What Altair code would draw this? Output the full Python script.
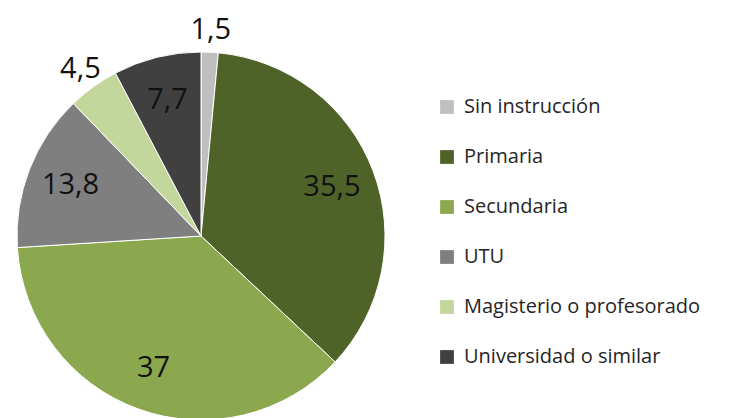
import altair as alt
import pandas as pd

categories = ["Sin instrucción", "Primaria", "Secundaria", "UTU",
              "Magisterio o profesorado", "Universidad o similar"]
values = [1.5, 35.5, 37, 13.8, 4.5, 7.7]
colors = ["#BFBFBF", "#4F6228", "#8BA84E", "#7F7F7F", "#C3D69B", "#404040"]

df = pd.DataFrame({"cat": categories, "value": values, "order": list(range(len(categories)))})

base = alt.Chart(df).encode(
    theta=alt.Theta("value:Q", stack=True),
    order=alt.Order("order:Q"),
)

arcs = base.mark_arc(radius=184, stroke="white", strokeWidth=1).encode(
    color=alt.Color(
        "cat:N",
        scale=alt.Scale(domain=categories, range=colors),
        sort=categories,
        legend=alt.Legend(
            title=None,
            orient="none",
            legendX=410,
            legendY=89,
            symbolType="square",
            symbolSize=190,
            symbolStrokeWidth=0,
            labelFont="Open Sans",
            labelFontSize=20,
            labelColor="#262626",
            labelOffset=7,
            rowPadding=30,
            labelLimit=400,
        ),
    )
)

lab_expr = "replace(toString(datum.value), '.', ',')"

inner = base.transform_calculate(
    lab="datum.value >= 6 ? " + lab_expr + " : ''"
).mark_text(radius=140, fontSize=29, font="Open Sans", color="#111111",
            align="center", baseline="middle").encode(text="lab:N")

outer = base.transform_calculate(
    lab="datum.value < 6 ? " + lab_expr + " : ''"
).mark_text(radius=206, fontSize=29, font="Open Sans", color="#111111",
            align="center", baseline="middle").encode(text="lab:N")

chart = (arcs + inner + outer).properties(
    width=348, height=456, padding=0
).configure_view(stroke=None)

chart.save("out.html", embed_options={"renderer": "svg", "actions": False})
